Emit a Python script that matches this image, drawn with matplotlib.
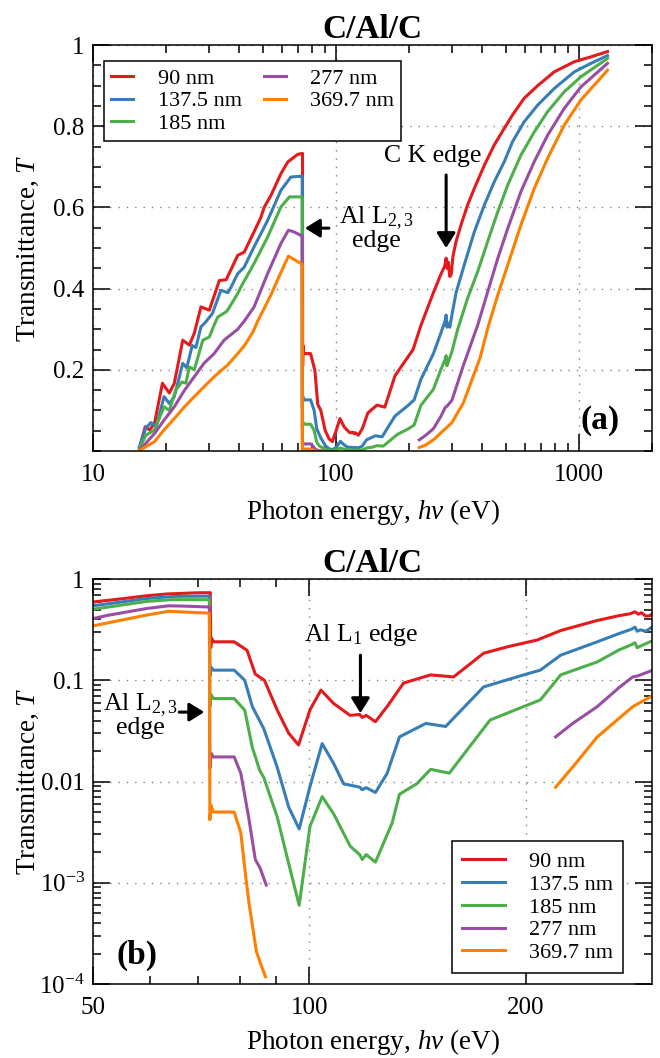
import numpy as np
import matplotlib
matplotlib.use("Agg")
import matplotlib.pyplot as plt
from matplotlib.ticker import FixedLocator, NullFormatter, LogLocator, MultipleLocator

plt.rcParams["font.family"] = "Liberation Serif"
plt.rcParams["mathtext.fontset"] = "custom"
plt.rcParams["mathtext.rm"] = "Liberation Serif"
plt.rcParams["mathtext.it"] = "Liberation Serif:italic"
plt.rcParams["mathtext.bf"] = "Liberation Serif:bold"

nan = np.nan

# transmittance: (photon energy eV, T)
t_90 = [(15.7, 0.019), (16.4, 0.06), (17.1, 0.052), (17.9, 0.068), (19.3, 0.167), (20.6, 0.143),
        (21.6, 0.167), (23.4, 0.273), (24.9, 0.261), (26.1, 0.29), (27.8, 0.355), (30.1, 0.347),
        (33.1, 0.42), (35.3, 0.422), (39.4, 0.482), (41.9, 0.49), (46.0, 0.54), (49.1, 0.576),
        (50.6, 0.60), (54.0, 0.63), (59.3, 0.683), (63.3, 0.712), (69.6, 0.731), (72.8, 0.733),
        (72.9, 0.21), (73.1, 0.26), (73.5, 0.24), (78.6, 0.24), (81.9, 0.198), (84.1, 0.115),
        (86.6, 0.10), (90.2, 0.051), (93.6, 0.030), (96.6, 0.023), (100.2, 0.051), (103.8, 0.08),
        (108.1, 0.059), (114.0, 0.045), (117.5, 0.046), (118.5, 0.043), (120.0, 0.045),
        (123.6, 0.039), (128.3, 0.055), (135.3, 0.094), (147.5, 0.113), (158.8, 0.108),
        (174.8, 0.185), (188.6, 0.214), (207.6, 0.25), (223.8, 0.31), (251.7, 0.39), (270, 0.435),
        (280, 0.455), (284, 0.475), (287, 0.45), (290, 0.465), (294, 0.43), (298, 0.435),
        (303, 0.48), (312, 0.516), (327, 0.557), (348, 0.606), (371, 0.647), (408, 0.704),
        (448, 0.754), (493, 0.795), (533, 0.828), (595, 0.869), (676, 0.90), (791, 0.934),
        (957, 0.959), (1120, 0.971), (1311, 0.984)]

t_137 = [(15.5, 0.01), (16.5, 0.057), (17.3, 0.07), (18.2, 0.06), (19.6, 0.134), (20.6, 0.117),
         (21.6, 0.134), (23.4, 0.216), (24.3, 0.205), (25.6, 0.26), (26.5, 0.255), (27.8, 0.306),
         (29.1, 0.318), (31.0, 0.339), (33.6, 0.396), (35.9, 0.39), (37.0, 0.404), (39.4, 0.437),
         (41.9, 0.453), (46.0, 0.503), (50.0, 0.545), (52.3, 0.568), (59.3, 0.642), (65.2, 0.675),
         (71.8, 0.677), (72.6, 0.677), (72.7, 0.11), (73.0, 0.135), (73.5, 0.126), (78.6, 0.126),
         (81.3, 0.10), (83.3, 0.055), (86.4, 0.0334), (90.2, 0.0139), (93.6, 0.0056),
         (96.8, 0.0034), (100.2, 0.0089), (104.2, 0.0237), (108.1, 0.0151), (111.6, 0.0095),
         (117.5, 0.0088), (118.5, 0.0083), (120.0, 0.0087), (123.6, 0.0078), (128.3, 0.012),
         (133.5, 0.0276), (145.3, 0.0375), (154.8, 0.035), (174.8, 0.086), (198.7, 0.113),
         (209.7, 0.126), (223.8, 0.177), (251.7, 0.24), (270, 0.29), (281, 0.32), (284, 0.335),
         (286, 0.305), (289, 0.315), (294, 0.305), (300, 0.335), (312, 0.39), (337, 0.458),
         (371, 0.54), (408, 0.606), (448, 0.663), (493, 0.713), (533, 0.762), (595, 0.811),
         (676, 0.852), (791, 0.893), (957, 0.934), (1120, 0.955), (1311, 0.974)]

t_185 = [(15.5, 0.006), (16.5, 0.039), (17.9, 0.052), (19.6, 0.109), (20.6, 0.10), (21.9, 0.15),
         (23.2, 0.17), (24.1, 0.167), (24.9, 0.207), (26.1, 0.20), (28.3, 0.273), (30.1, 0.281),
         (31.5, 0.31), (32.6, 0.33), (35.3, 0.343), (35.8, 0.347), (39.4, 0.388), (40.6, 0.404),
         (46.0, 0.462), (52.3, 0.527), (59.3, 0.601), (64.3, 0.626), (71.8, 0.626), (72.6, 0.625),
         (72.7, 0.055), (73.0, 0.072), (73.5, 0.066), (78.6, 0.066), (81.3, 0.0507),
         (83.3, 0.0218), (85.3, 0.0129), (86.4, 0.011), (90.2, 0.0045), (93.6, 0.00155),
         (96.8, 0.0006), (100.2, 0.0036), (104.2, 0.0071), (108.1, 0.0048), (114.0, 0.0023),
         (117.5, 0.0019), (118.5, 0.0017), (120.0, 0.0019), (123.6, 0.0016), (130.4, 0.0039),
         (133.5, 0.0075), (141.1, 0.0095), (147.5, 0.0132), (156.6, 0.0121), (178.5, 0.0405),
         (198.7, 0.055), (209.7, 0.064), (223.8, 0.113), (251.7, 0.152), (270, 0.20),
         (281, 0.225), (284, 0.235), (286, 0.21), (290, 0.22), (300, 0.245), (317, 0.30),
         (348, 0.376), (383, 0.442), (421, 0.516), (463, 0.589), (509, 0.655), (577, 0.729),
         (655, 0.786), (743, 0.836), (870, 0.885), (1019, 0.922), (1311, 0.967)]

t_277 = [(15.7, 0.005), (17.9, 0.043), (19.6, 0.076), (21.6, 0.109), (23.8, 0.15), (26.1, 0.183),
         (28.6, 0.216), (31.5, 0.24), (34.6, 0.273), (39.4, 0.30), (42.5, 0.325), (46.0, 0.355),
         (52.3, 0.437), (59.3, 0.511), (63.7, 0.544), (67.0, 0.54), (71.8, 0.531), (72.6, 0.53),
         (72.7, 0.0135), (73.0, 0.019), (73.5, 0.0175), (78.6, 0.0175), (80.3, 0.012),
         (82.3, 0.0045), (84.1, 0.0017), (85.4, 0.0014), (87.1, 0.00095), (150, nan),
         (220.2, 0.0276), (232.6, 0.0375), (251.7, 0.055), (270, 0.085), (282, 0.108),
         (286, 0.11), (300, 0.125), (334, 0.21), (383, 0.31), (421, 0.392), (463, 0.474),
         (509, 0.548), (577, 0.639), (655, 0.713), (743, 0.778), (870, 0.844), (1019, 0.897),
         (1311, 0.955)]

t_369 = [(15.7, 0.003), (17.9, 0.023), (19.6, 0.052), (21.6, 0.08), (23.8, 0.109), (26.1, 0.134),
         (28.6, 0.158), (31.5, 0.183), (35.8, 0.212), (39.4, 0.24), (42.0, 0.26), (45.5, 0.293),
         (47.6, 0.32), (50.0, 0.345), (54.0, 0.385), (59.3, 0.44), (63.7, 0.48), (68.0, 0.47),
         (71.8, 0.462), (72.6, 0.46), (72.7, 0.0042), (73.0, 0.0058), (73.5, 0.005),
         (78.6, 0.005), (80.3, 0.0031), (81.5, 0.0012), (82.5, 0.0006), (84.4, 0.00021),
         (85.5, 0.00016), (86.9, 0.000118), (150, nan), (220.2, 0.0088), (232.6, 0.0139),
         (251.7, 0.0276), (282, 0.055), (300, 0.07), (334, 0.118), (392, 0.23), (421, 0.302),
         (463, 0.384), (509, 0.458), (577, 0.557), (655, 0.647), (743, 0.721), (870, 0.803),
         (1019, 0.865), (1311, 0.938)]

series = [t_90, t_137, t_185, t_277, t_369]
labels = ["90 nm", "137.5 nm", "185 nm", "277 nm", "369.7 nm"]
colors = ["#e41a1c", "#377eb8", "#4daf4a", "#984ea3", "#ff7f00"]

fig = plt.figure(figsize=(6.6, 10.58), dpi=100)
ax1 = fig.add_axes([0.141, 0.5737, 0.847, 0.3837])
ax2 = fig.add_axes([0.141, 0.0699, 0.847, 0.3828])

for ax in (ax1, ax2):
    for d, c, lab in zip(series, colors, labels):
        e, t = np.array(d).T
        ax.plot(e, t, color=c, lw=2.2, label=lab)
    ax.set_title("C/Al/C", fontsize=24, fontweight="bold", pad=5)
    ax.set_xscale("log")
    ax.grid(True, which="major", ls=(0, (1, 5)), color="0.5", lw=1.0)
    ax.tick_params(which="both", direction="in", top=True, right=True, width=1.1, labelsize=18)
    ax.tick_params(which="major", length=12)
    ax.tick_params(which="minor", length=6)
    ax.tick_params(axis="x", pad=9)
    ax.tick_params(axis="y", pad=6)
    for s in ax.spines.values():
        s.set_linewidth(1.1)
    ax.set_xlabel("Photon energy, $hv$ (eV)", fontsize=19.5)
    ax.set_ylabel("Transmittance, $T$", fontsize=19.5)
    ax.yaxis.set_label_coords(-0.094, 0.5)

# (a) linear panel
ax1.set_xlim(10, 2000)
ax1.set_ylim(0, 1)
ax1.set_xticks([10, 100, 1000])
ax1.set_xticklabels(["10", "100", "1000"])
ax1.xaxis.set_minor_locator(LogLocator(base=10, subs=np.arange(2, 10), numticks=20))
ax1.xaxis.set_minor_formatter(NullFormatter())
ax1.set_yticks([0.2, 0.4, 0.6, 0.8, 1.0])
ax1.set_yticklabels(["0.2", "0.4", "0.6", "0.8", "1"])
ax1.yaxis.set_minor_locator(MultipleLocator(0.05))
ax1.xaxis.set_label_coords(0.5, -0.113)

leg1 = ax1.legend(ncol=2, loc="upper left", bbox_to_anchor=(0.02, 0.96), borderaxespad=0,
                  fontsize=16, handlelength=1.0, handletextpad=1.1, columnspacing=1.0,
                  labelspacing=0.1, fancybox=False, edgecolor="black", framealpha=1,
                  borderpad=0.3)
leg1.get_frame().set_linewidth(1.1)

arrow = dict(arrowstyle="-|>,head_length=0.45,head_width=0.28", color="black", lw=2.2,
             shrinkA=0, shrinkB=0, mutation_scale=20)
ax1.annotate("", xy=(284, 0.50), xytext=(284, 0.68), arrowprops=arrow)
ax1.text(251, 0.727, "C K edge", ha="center", va="center", fontsize=18.5)
ax1.annotate("", xy=(74.5, 0.549), xytext=(93.5, 0.549), arrowprops=arrow)
ax1.text(146, 0.549, "Al L$_{2,3}$\nedge", ha="center", va="center", fontsize=18.5,
         linespacing=0.9, multialignment="center")
ax1.text(0.907, 0.076, "(a)", transform=ax1.transAxes, ha="center", va="center",
         fontsize=24, fontweight="bold")

# (b) log panel
ax2.set_yscale("log")
ax2.set_xlim(50, 300)
ax2.set_ylim(1e-4, 1)
ax2.set_xticks([50, 100, 200])
ax2.set_xticklabels(["50", "100", "200"])
ax2.xaxis.set_minor_locator(FixedLocator([60, 70, 80, 90]))
ax2.xaxis.set_minor_formatter(NullFormatter())
ax2.set_yticks([1e-4, 1e-3, 1e-2, 1e-1, 1])
ax2.set_yticklabels(["$10^{-4}$", "$10^{-3}$", "0.01", "0.1", "1"])
ax2.yaxis.set_minor_locator(LogLocator(base=10, subs=np.arange(2, 10), numticks=20))
ax2.yaxis.set_minor_formatter(NullFormatter())
ax2.xaxis.set_label_coords(0.5, -0.106)

leg2 = ax2.legend(loc="lower right", bbox_to_anchor=(0.948, 0.027), borderaxespad=0,
                  fontsize=16, handlelength=1.9, handletextpad=1.1, labelspacing=0.1,
                  fancybox=False, edgecolor="black", framealpha=1, borderpad=0.45)
leg2.get_frame().set_linewidth(1.1)

ax2.annotate("", xy=(117.8, 0.0474), xytext=(117.8, 0.177), arrowprops=arrow)
ax2.text(118.2, 0.28, "Al L$_1$ edge", ha="center", va="center", fontsize=18.5)
ax2.annotate("", xy=(71.4, 0.0485), xytext=(65.9, 0.0485), arrowprops=arrow)
ax2.text(58.2, 0.0453, "Al L$_{2,3}$\nedge", ha="center", va="center", fontsize=18.5,
         linespacing=0.9, multialignment="center")
ax2.text(0.079, 0.072, "(b)", transform=ax2.transAxes, ha="center", va="center",
         fontsize=24, fontweight="bold")

fig.savefig("out.png", dpi=100)
